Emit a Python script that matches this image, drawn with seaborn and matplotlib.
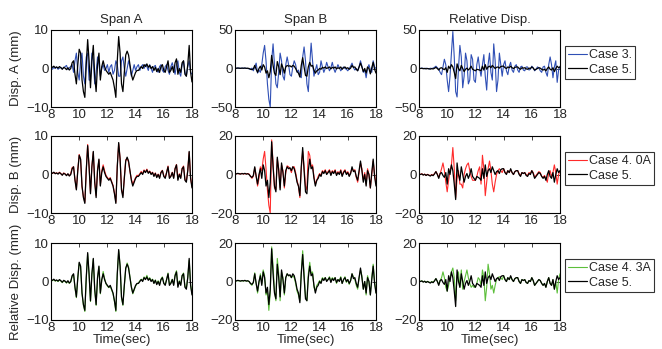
import numpy as np
import matplotlib
matplotlib.use("Agg")
import matplotlib.pyplot as plt
import seaborn as sns

# time axis, 0.1 s steps from 8 to 18 s
time_sec = np.round(np.arange(80, 181) / 10, 1)

# Case 5 (black)
case5_span_a = [
    0.5, 0.3, 0.6, 0.2, 0.4, 0.1, 0.5, 0.2, -0.2, 0.3,
    0.1, -0.3, 0.2, -0.4, 0.0, 1.5, 2.0, -1.5, -4.0, 1.0,
    5.0, 4.0, -3.0, -6.0, -7.5, 1.0, 7.5, 2.0, -5.0, 2.0,
    6.0, -2.0, -6.0, 1.0, 4.0, -3.0, 0.5, 2.0, 0.5, -0.5,
    -1.0, -1.5, -1.0, -2.0, -3.0, -5.0, -7.5, 2.0, 8.3, 4.0,
    -4.0, -6.0, -1.0, 3.5, 4.5, 3.5, 1.0, -1.5, -3.0, -2.0,
    -1.0, -0.5, -0.5, 0.0, 0.5, 0.0, 1.0, 0.5, 1.2, 0.3,
    0.8, 0.0, 0.5, -0.5, 0.3, -0.8, 0.0, -1.0, 0.5, 1.0,
    -0.5, -1.0, 0.5, 2.0, -1.0, -0.5, 0.5, -1.0, 1.5, 2.5,
    -1.5, 0.0, -1.0, 1.5, 2.0, -1.5, -2.0, 1.0, 6.0, -1.0,
    -3.5,
]
case5_span_b = [
    0.5, 0.3, 0.6, 0.4, 0.2, 0.5, 0.3, 0.6, 0.2, 0.4,
    0.0, -1.0, -1.5, -0.5, 4.0, -1.0, -5.0, 0.0, 3.0, -2.0,
    5.0, 2.0, -6.0, -3.0, -12.0, -4.0, 17.0, 4.0, -6.0, -9.0,
    9.0, 2.0, -8.0, 6.0, 1.0, -6.0, 2.0, 4.0, 3.0, 3.5,
    2.0, 4.0, 3.0, 0.0, -4.0, -6.0, -11.0, 4.0, 14.0, 2.0,
    -9.0, -10.0, 2.0, 8.0, 3.0, 4.0, -2.0, -6.0, -3.0, -2.0,
    0.0, -1.0, 1.5, 0.5, 2.0, 0.0, 1.0, 2.0, -0.5, 1.5,
    0.5, 2.0, -0.5, 1.0, 0.0, 2.0, -1.0, 1.0, 2.0, 0.0,
    1.0, -1.0, 0.5, 4.0, 1.5, 2.0, -1.0, -3.0, 2.0, 7.0,
    2.0, -4.0, 0.0, -6.0, 2.0, 0.0, -7.0, 1.0, 8.0, -1.0,
    -6.0,
]
case5_rel = [
    0.2, 0.0, 0.3, -0.3, 0.1, -0.5, 0.0, -0.4, -0.8, -0.2,
    -0.6, 0.3, 1.5, 0.0, -2.0, 0.5, 1.0, -0.5, -1.5, 1.0,
    -5.0, 3.0, 0.0, 5.0, 2.0, -5.0, -13.0, 6.0, 0.0, -3.0,
    4.0, 0.0, -4.0, -1.0, 0.5, -2.0, 0.0, 3.0, -1.0, -2.0,
    -3.0, -1.0, -1.5, -2.0, -3.0, 3.0, -2.0, 5.0, -1.0, 2.0,
    3.0, 1.0, 4.0, 2.0, 0.0, 1.5, 2.0, 0.5, 2.5, 3.0,
    3.0, 1.0, 0.0, 2.0, 1.0, 3.0, 1.0, 0.0, 1.5, 2.0,
    2.0, 0.0, -1.0, 1.0, 0.5, 1.0, -0.5, -1.0, 0.5, 0.0,
    2.0, 0.5, -2.0, -1.0, 0.0, 1.0, 0.5, -1.0, -2.0, -1.0,
    -3.0, 0.0, 2.0, -1.0, -2.0, 1.0, -4.0, 0.0, 3.0, 1.0,
    2.0,
]

# Case 3 (blue)
case3_span_a = [
    0.2, -0.2, 0.3, 0.0, 0.4, -0.2, 0.1, 0.3, -0.1, 0.2,
    0.5, 0.8, -0.3, 0.2, 0.5, 1.0, -1.0, 2.0, 4.0, -1.0,
    -3.0, 2.0, 4.0, -2.0, -4.0, 3.0, 4.0, -3.0, -3.0, 4.0,
    2.0, -4.0, -1.0, 3.0, 1.0, -2.0, 0.0, 1.0, -0.5, 0.0,
    1.0, -1.0, 0.5, 1.0, -1.5, -0.5, 2.0, 1.0, -2.0, -2.0,
    2.0, 3.0, 0.0, -2.0, 0.0, 2.0, 0.5, -2.0, -0.5, 1.0,
    -0.5, 0.5, 1.0, -0.5, 0.5, 1.0, 0.0, 1.0, 0.5, -0.5,
    1.0, 0.0, -1.0, 0.5, 0.8, -0.5, -1.0, 0.5, 1.0, -0.5,
    -1.0, 0.5, 1.0, -0.5, -1.5, 0.5, 1.5, 0.0, -1.5, 1.0,
    2.0, -1.0, -2.0, 1.0, 2.0, -1.0, -2.0, 0.5, 2.0, -1.0,
    -1.5,
]
case3_span_b = [
    0.5, 0.3, 0.6, 0.4, 0.2, 0.5, 0.3, 0.5, 0.2, 0.0,
    -0.5, -1.0, 0.5, -3.0, 2.0, 7.0, -6.0, -2.0, -5.0, 5.0,
    20.0, 30.0, 10.0, -20.0, -40.0, -50.0, 10.0, 32.0, 5.0, -20.0,
    -25.0, -5.0, 20.0, 10.0, -10.0, -15.0, 5.0, 15.0, 5.0, -8.0,
    -10.0, 2.0, 10.0, 5.0, -5.0, -2.0, -10.0, -12.0, 15.0, 28.0,
    10.0, -20.0, -30.0, 5.0, 33.0, 10.0, -10.0, -2.0, 5.0, -8.0,
    -5.0, 10.0, 2.0, -5.0, 0.0, 8.0, 2.0, -3.0, 1.0, 8.0,
    0.0, -5.0, 0.0, 5.0, 1.0, -3.0, 0.0, 2.0, 0.0, -1.0,
    -3.0, 0.0, 3.0, 7.0, 1.0, -2.0, 0.0, -3.0, 2.0, 10.0,
    3.0, -5.0, -2.0, -12.0, 0.0, 5.0, -2.0, -5.0, 10.0, 2.0,
    0.0,
]
case3_rel = [
    0.3, 0.0, 0.5, 0.2, -0.3, 0.4, 0.0, -0.5, 0.3, 0.0,
    0.5, 1.5, 3.0, 1.0, -1.0, -5.0, -8.0, 2.0, 12.0, 5.0,
    -15.0, -30.0, -10.0, 20.0, 48.0, 15.0, -30.0, -37.0, 0.0, 30.0,
    15.0, -25.0, -10.0, 20.0, 10.0, -20.0, -15.0, 18.0, 12.0, -15.0,
    -18.0, 5.0, 15.0, 0.0, -10.0, 5.0, 18.0, -10.0, -28.0, 5.0,
    20.0, -5.0, -15.0, 32.0, 10.0, -30.0, -15.0, 20.0, 5.0, -10.0,
    5.0, 10.0, -3.0, -8.0, 3.0, 8.0, -2.0, -5.0, 3.0, 5.0,
    -2.0, -5.0, 2.0, 3.0, -2.0, -3.0, 2.0, 2.0, -2.0, -1.0,
    3.0, 1.0, -3.0, -1.0, 2.0, 1.0, -3.0, -5.0, 2.0, 3.0,
    -5.0, -10.0, 5.0, 15.0, 5.0, -12.0, 2.0, 10.0, -18.0, -2.0,
    3.0,
]

# Case 4. 0A (red)
case40a_span_a = [
    0.6, 0.3, 0.5, 0.3, 0.4, 0.2, 0.6, 0.2, -0.1, 0.4,
    0.2, -0.2, 0.1, -0.3, 0.2, 1.8, 2.0, -1.2, -3.8, 1.2,
    5.2, 3.8, -3.2, -5.8, -7.2, 1.2, 7.8, 2.2, -4.8, 2.2,
    5.8, -1.8, -5.5, 1.2, 3.8, -2.8, 1.0, 2.5, 1.0, -0.2,
    -0.8, -1.2, -0.8, -1.8, -2.8, -4.8, -7.2, 2.2, 8.0, 4.2,
    -3.8, -5.5, -0.8, 3.8, 4.2, 3.2, 0.8, -1.2, -2.6, -1.6,
    -0.8, -0.2, -0.3, 0.2, 0.8, 0.2, 1.2, 0.6, 1.4, 0.5,
    0.9, 0.2, 0.6, -0.3, 0.4, -0.6, 0.1, -0.8, 0.6, 1.1,
    -0.3, -0.8, 0.6, 2.2, -0.8, -0.4, 0.6, -0.8, 1.6, 2.6,
    -1.2, 0.2, -0.8, 1.6, 2.2, -1.2, -1.8, 1.2, 5.8, -0.8,
    -3.2,
]
case40a_span_b = [
    0.6, 0.4, 0.5, 0.3, 0.4, 0.6, 0.2, 0.5, 0.3, 0.5,
    0.2, -0.8, -2.0, -1.0, 3.5, -0.5, -6.0, -2.0, 4.0, 2.0,
    8.0, 12.0, 3.0, -8.0, -16.0, -20.0, 18.0, 6.0, -7.0, -8.0,
    8.0, 3.0, -7.0, 5.0, 2.0, -7.0, 1.0, 4.5, 4.0, 3.0,
    1.0, 4.0, 4.0, 1.0, -3.0, -6.0, -12.0, 3.0, 12.0, 4.0,
    -6.0, -8.0, 12.0, 10.0, 4.0, 5.0, -1.0, -5.0, -3.0, -1.0,
    0.5, -0.5, 2.0, 1.0, 2.5, 0.5, 1.5, 2.5, 0.0, 2.0,
    1.0, 2.5, 0.0, 1.5, 0.5, 2.5, -0.5, 1.5, 2.5, 0.5,
    1.5, -0.5, 1.0, 3.0, 2.0, 2.5, -1.5, -4.0, 1.0, 6.0,
    3.0, -3.0, 1.0, -5.0, 3.0, 0.0, -7.0, 0.0, 7.0, 0.0,
    -5.0,
]
case40a_rel = [
    0.3, 0.0, 0.4, -0.2, 0.2, -0.4, 0.1, -0.3, -0.6, 0.0,
    -0.4, 0.5, 1.5, 0.2, -1.5, 0.5, 3.0, 6.0, 2.0, -4.0,
    -9.0, -3.0, 2.0, 5.0, 14.0, 3.0, -12.0, -2.0, 2.0, -5.0,
    -5.0, -7.0, 0.0, 3.0, 5.0, 6.0, 2.0, -1.0, -3.0, -3.0,
    -3.0, -1.0, 2.0, 4.0, -5.0, 10.0, 3.0, -11.0, -4.0, 3.0,
    7.0, 2.0, -5.0, -9.0, -4.0, 0.0, 2.0, 3.0, 2.0, 1.0,
    3.0, 1.0, 0.5, 2.0, 1.0, 2.5, 1.0, 0.0, 1.5, 2.0,
    2.0, 0.5, -0.5, 1.0, 0.5, 1.0, 0.0, -0.5, 1.0, 0.5,
    2.0, 1.0, -1.5, -0.5, 0.5, 1.5, 1.0, -1.0, -1.5, -0.5,
    -2.0, -4.0, 1.0, 2.0, -1.0, 1.0, 5.0, 1.0, -5.0, 0.0,
    2.0,
]

# Case 4. 3A (green)
case43a_span_a = [
    0.4, 0.2, 0.5, 0.1, 0.3, 0.0, 0.4, 0.1, -0.3, 0.2,
    0.0, -0.4, 0.1, -0.5, -0.1, 1.4, 1.8, -1.6, -4.2, 0.8,
    4.8, 3.8, -3.2, -6.2, -7.8, 0.8, 7.2, 1.8, -5.2, 1.8,
    5.8, -2.2, -6.2, 0.8, 3.8, -3.2, 0.3, 2.6, 0.8, -0.6,
    -1.2, -1.6, -1.2, -2.2, -3.2, -5.2, -7.8, 1.8, 8.0, 4.2,
    -4.2, -6.2, -1.2, 3.2, 4.8, 3.8, 1.2, -1.2, -3.2, -2.2,
    -1.2, -0.6, -0.4, 0.2, 0.6, 0.2, 1.2, 0.6, 1.6, 0.5,
    1.0, 0.2, 0.6, -0.4, 0.4, -0.6, 0.2, -0.8, 0.6, 1.2,
    -0.4, -0.8, 0.6, 2.2, -0.8, -0.3, 0.6, -0.8, 1.8, 2.8,
    -1.2, 0.2, -0.8, 1.6, 2.2, -1.2, -1.8, 1.2, 5.5, -0.8,
    -3.2,
]
case43a_span_b = [
    0.4, 0.3, 0.5, 0.3, 0.3, 0.4, 0.2, 0.5, 0.3, 0.3,
    0.0, -1.2, -2.0, -0.5, 4.5, -1.0, -6.0, -1.0, 4.0, -1.0,
    6.0, 3.0, -7.0, -5.0, -15.0, -6.0, 18.0, 8.0, -5.0, -10.0,
    12.0, 4.0, -10.0, 5.0, 2.0, -7.0, 2.0, 4.0, 3.0, 3.0,
    2.0, 3.0, 2.0, -1.0, -5.0, -7.0, -10.0, 5.0, 16.0, 4.0,
    -8.0, -10.0, 4.0, 10.0, 4.0, 5.0, -3.0, -5.0, -2.0, -1.0,
    0.5, -0.5, 2.0, 1.0, 2.0, 0.5, 1.0, 2.5, 0.0, 2.0,
    1.0, 2.0, -1.0, 1.0, 0.5, 2.5, -1.0, 1.0, 2.5, -0.5,
    1.0, -1.5, 0.5, 4.0, 2.5, 1.0, -2.0, -4.0, 2.0, 6.0,
    3.0, -4.0, 0.0, -7.0, 3.0, 0.0, -7.0, 2.0, 9.0, 0.0,
    -6.0,
]
case43a_rel = [
    0.3, 0.0, 0.4, -0.2, 0.2, -0.4, 0.1, -0.3, -0.6, 0.0,
    -0.4, 0.5, 1.5, 0.2, -1.5, 0.5, 2.0, 5.0, 2.0, -3.0,
    -5.0, -2.0, 2.0, 5.0, 7.0, 2.0, -10.0, 3.0, 5.0, -3.0,
    6.0, -4.0, 0.0, 3.0, 6.0, 2.0, -1.0, -3.0, -2.0, -3.0,
    -3.0, -1.0, 2.0, 1.0, -2.0, 6.0, 2.0, -10.0, -3.0, 9.0,
    4.0, -4.0, -2.0, -6.0, -2.0, 1.0, 2.0, 2.5, 2.0, 1.0,
    3.0, 1.0, 0.0, 2.0, 1.0, 2.5, 1.0, 0.0, 1.5, 2.0,
    2.0, 0.0, -1.0, 1.0, 0.5, 1.0, -0.5, -1.0, 0.5, 0.0,
    2.0, 0.5, -2.0, -1.0, 0.0, 1.0, 0.5, -1.0, -2.0, -1.0,
    -3.0, 0.0, 2.0, -1.0, -2.0, 1.0, -4.0, 0.0, -6.0, 1.0,
    4.0,
]

col_titles = ["Span A", "Span B", "Relative Disp."]
row_labels = ["Disp. A (mm)", "Disp. B (mm)", "Relative Disp. (mm)"]
case_names = ["Case 3.", "Case 4. 0A", "Case 4. 3A"]
case_colors = ["#2f4fb5", "#ff2a2a", "#5cbf3a"]
case_data = [
    [case3_span_a, case3_span_b, case3_rel],
    [case40a_span_a, case40a_span_b, case40a_rel],
    [case43a_span_a, case43a_span_b, case43a_rel],
]
case5_data = [case5_span_a, case5_span_b, case5_rel]
y_limits = [[10, 50, 50], [10, 20, 20], [10, 20, 20]]

sns.set_style("white")
plt.rcParams["font.family"] = ["Liberation Sans", "DejaVu Sans"]
plt.rcParams["font.size"] = 9.5

W, H = 662, 349
fig = plt.figure(figsize=(W / 100, H / 100), dpi=100)

col_left = [51, 235, 419]
row_top = [30, 136, 243]
ax_w, ax_h = 141, 77

for r in range(3):
    for c in range(3):
        ax = fig.add_axes([col_left[c] / W, 1 - (row_top[r] + ax_h) / H,
                           ax_w / W, ax_h / H])
        sns.lineplot(x=time_sec, y=case_data[r][c], ax=ax, color=case_colors[r],
                     lw=0.8, errorbar=None, label=case_names[r])
        sns.lineplot(x=time_sec, y=case5_data[c], ax=ax, color="black",
                     lw=0.9, errorbar=None, label="Case 5.")
        lim = y_limits[r][c]
        ax.set_xlim(8, 18)
        ax.set_ylim(-lim, lim)
        ax.set_xticks([8, 10, 12, 14, 16, 18])
        ax.set_yticks([-lim, 0, lim])
        ax.tick_params(direction="in", length=3, width=0.6, top=True, right=True,
                       labelsize=9.5, pad=1.5)
        for s in ax.spines.values():
            s.set_linewidth(0.8)
            s.set_color("black")
        ax.set_xlabel("")
        ax.set_ylabel("")
        if r == 0:
            ax.set_title(col_titles[c], fontsize=9.5, pad=5)
        if c == 0:
            ax.set_ylabel(row_labels[r], fontsize=9.5, labelpad=3)
        if r == 2:
            ax.set_xlabel("Time(sec)", fontsize=9.5, labelpad=0)
        if c == 2:
            leg = ax.legend(loc="upper left",
                            bbox_to_anchor=(565 / W, 1 - (row_top[r] + 16) / H),
                            bbox_transform=fig.transFigure, borderaxespad=0,
                            frameon=True, fancybox=False, fontsize=9,
                            handlelength=1.5, handletextpad=0.15,
                            labelspacing=0.2, borderpad=0.25)
            leg.get_frame().set_edgecolor("black")
            leg.get_frame().set_linewidth(0.8)
        else:
            ax.get_legend().remove()

fig.savefig("out.png", dpi=100)
